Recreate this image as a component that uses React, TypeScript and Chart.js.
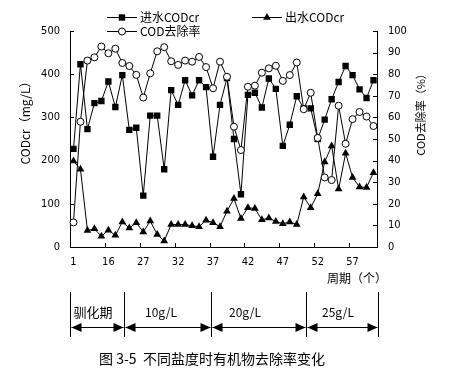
import React, { useEffect, useRef } from 'react';
import { Chart, registerables } from 'chart.js';

Chart.register(...registerables);

// ---- data ----
const periods = [
  '1', '4', '7', '10', '13', '16', '18', '20', '23', '25',
  '27', '28', '29', '30', '31', '32', '33', '34', '35', '36',
  '37', '38', '39', '40', '41', '42', '43', '44', '45', '46',
  '47', '48', '49', '50', '51', '52', '53', '54', '55', '56',
  '57', '58', '59', '60',
];
const influentCOD = [
  227, 423, 273, 333, 338, 383, 324, 398, 271, 276,
  119, 304, 304, 180, 363, 329, 386, 351, 386, 370,
  209, 329, 391, 250, 122, 352, 357, 323, 390, 366,
  234, 283, 349, 321, 321, 250, 295, 342, 382, 419,
  398, 365, 345, 386,
];
const effluentCOD = [
  199, 180, 38, 42, 25, 39, 27, 58, 44, 56,
  35, 60, 29, 14, 52, 52, 52, 49, 47, 62,
  56, 47, 83, 112, 66, 91, 89, 63, 67, 59,
  54, 58, 52, 116, 91, 123, 197, 234, 134, 217,
  161, 139, 138, 172,
];
const removalRate = [
  11.4, 58, 86.3, 87.8, 92.8, 89.7, 91.8, 85.2, 83.8, 79.7,
  69.2, 80.4, 90.6, 92.5, 86, 84.3, 86.3, 85.8, 88, 83.3,
  73.5, 85.8, 78.8, 55.7, 44.9, 74.2, 74.7, 80.7, 82.7, 83.9,
  76.9, 79.6, 85.4, 63.8, 71.4, 50.5, 32.2, 31, 65.4, 47.8,
  59.2, 62.5, 60.4, 56,
];
const seriesNames = ['进水CODcr', '出水CODcr', 'COD去除率'];
const stageNames = ['驯化期', '10g/L', '20g/L', '25g/L'];
const leftTitle = 'CODcr（mg/L）';
const rightTitle = 'COD去除率（%）';
const xTitle = '周期（个）';
const caption = '图 3-5  不同盐度时有机物去除率变化';

const NUM_FONT = '"DejaVu Sans Condensed", "Liberation Sans Narrow", "Noto Sans CJK SC", sans-serif';
const CJK_FONT = '"Noto Sans CJK SC", "DejaVu Sans", sans-serif';

function drawMarker(ctx: CanvasRenderingContext2D, style: string, x: number, y: number) {
  ctx.save();
  ctx.lineWidth = 1;
  ctx.strokeStyle = '#000';
  ctx.beginPath();
  if (style === 'rect') {
    ctx.fillStyle = '#000';
    ctx.rect(x - 3.2, y - 3.2, 6.4, 6.4);
    ctx.fill();
  } else if (style === 'triangle') {
    ctx.fillStyle = '#000';
    ctx.moveTo(x, y - 4.5);
    ctx.lineTo(x + 3.9, y + 2.25);
    ctx.lineTo(x - 3.9, y + 2.25);
    ctx.closePath();
    ctx.fill();
  } else {
    ctx.fillStyle = '#fff';
    ctx.arc(x, y, 3.5, 0, Math.PI * 2);
    ctx.fill();
    ctx.stroke();
  }
  ctx.restore();
}

function doubleArrow(ctx: CanvasRenderingContext2D, xa: number, xb: number, y: number) {
  ctx.beginPath();
  ctx.moveTo(xa, y + 0.5);
  ctx.lineTo(xb, y + 0.5);
  ctx.stroke();
  const L = 10, H = 4.5;
  ctx.beginPath();
  ctx.moveTo(xa, y + 0.5);
  ctx.lineTo(xa + L, y + 0.5 - H);
  ctx.lineTo(xa + L, y + 0.5 + H);
  ctx.closePath();
  ctx.fill();
  ctx.beginPath();
  ctx.moveTo(xb, y + 0.5);
  ctx.lineTo(xb - L, y + 0.5 - H);
  ctx.lineTo(xb - L, y + 0.5 + H);
  ctx.closePath();
  ctx.fill();
}

const decoPlugin = {
  id: 'deco',
  afterDraw(chart: any) {
    const { ctx, chartArea: ca, scales } = chart;
    const xs = scales.x, ys = scales.y, ys1 = scales.y1;
    ctx.save();
    ctx.strokeStyle = '#000';
    ctx.fillStyle = '#000';
    ctx.lineWidth = 1;

    // inward tick marks
    ctx.beginPath();
    ys.ticks.forEach((_t: any, i: number) => {
      const py = Math.round(ys.getPixelForTick(i)) + 0.5;
      ctx.moveTo(ca.left, py);
      ctx.lineTo(ca.left + 4, py);
    });
    ys1.ticks.forEach((_t: any, i: number) => {
      const py = Math.round(ys1.getPixelForTick(i)) + 0.5;
      ctx.moveTo(ca.right, py);
      ctx.lineTo(ca.right - 4, py);
    });
    const step = xs.getPixelForValue(1) - xs.getPixelForValue(0);
    for (let i = 5; i < periods.length; i += 5) {
      const px = Math.round(xs.getPixelForValue(i) - step / 2) + 0.5;
      ctx.moveTo(px, ca.bottom);
      ctx.lineTo(px, ca.bottom - 4);
    }
    ctx.stroke();

    // axis titles
    ctx.textAlign = 'center';
    ctx.textBaseline = 'middle';
    ctx.font = `12px ${CJK_FONT}`;
    ctx.save();
    ctx.translate(25, 120);
    ctx.rotate(-Math.PI / 2);
    ctx.fillText(leftTitle, 0, 0);
    ctx.restore();
    ctx.font = `11px ${CJK_FONT}`;
    ctx.save();
    ctx.translate(421, 112);
    ctx.rotate(-Math.PI / 2);
    ctx.fillText(rightTitle, 0, 0);
    ctx.restore();
    ctx.font = `12px ${CJK_FONT}`;
    ctx.textAlign = 'left';
    ctx.fillText(xTitle, 327, 278);

    // legend
    const legendItems = [
      { name: seriesNames[0], style: 'rect', x0: 107, y: 17 },
      { name: seriesNames[1], style: 'triangle', x0: 252, y: 17 },
      { name: seriesNames[2], style: 'circle', x0: 107, y: 31 },
    ];
    legendItems.forEach((it) => {
      ctx.beginPath();
      ctx.moveTo(it.x0, it.y + 0.5);
      ctx.lineTo(it.x0 + 30, it.y + 0.5);
      ctx.stroke();
      drawMarker(ctx, it.style, it.x0 + 15, it.y + 0.5);
      ctx.fillStyle = '#000';
      ctx.font = `12px ${CJK_FONT}`;
      ctx.textAlign = 'left';
      ctx.textBaseline = 'middle';
      ctx.fillText(it.name, it.x0 + 33, it.y);
    });

    // stage annotation below the chart
    const bounds = [70.5, 124.5, 211.5, 306.5, 378.5];
    ctx.beginPath();
    bounds.forEach((bx) => {
      ctx.moveTo(bx, 292);
      ctx.lineTo(bx, 337);
    });
    ctx.stroke();
    for (let i = 0; i < 4; i++) {
      doubleArrow(ctx, bounds[i] + 1, bounds[i + 1] - 1, 327);
    }
    ctx.textBaseline = 'middle';
    ctx.textAlign = 'center';
    ctx.font = `13px ${CJK_FONT}`;
    ctx.fillText(stageNames[0], 93, 312);
    ctx.font = `12px ${CJK_FONT}`;
    ctx.fillText(stageNames[1], 161, 312);
    ctx.fillText(stageNames[2], 245, 312);
    ctx.fillText(stageNames[3], 338, 312);

    // caption
    ctx.font = `14px ${CJK_FONT}`;
    ctx.fillText(caption, 212, 359);
    ctx.restore();
  },
};

export default function App() {
  const ref = useRef<HTMLCanvasElement>(null);
  useEffect(() => {
    const tickFont = { family: NUM_FONT, size: 11 };
    const chart = new Chart(ref.current as HTMLCanvasElement, {
      type: 'line',
      data: {
        labels: periods,
        datasets: [
          {
            label: seriesNames[0],
            data: influentCOD,
            yAxisID: 'y',
            borderColor: '#000',
            borderWidth: 1,
            pointStyle: 'rect',
            pointRadius: 4.5,
            pointBackgroundColor: '#000',
            pointBorderColor: '#000',
            pointBorderWidth: 0,
            tension: 0,
            order: 2,
          },
          {
            label: seriesNames[1],
            data: effluentCOD,
            yAxisID: 'y',
            borderColor: '#000',
            borderWidth: 1,
            pointStyle: 'triangle',
            pointRadius: 4.5,
            pointBackgroundColor: '#000',
            pointBorderColor: '#000',
            pointBorderWidth: 0,
            tension: 0,
            order: 1,
          },
          {
            label: seriesNames[2],
            data: removalRate,
            yAxisID: 'y1',
            borderColor: '#000',
            borderWidth: 1,
            pointStyle: 'circle',
            pointRadius: 3.5,
            pointBackgroundColor: '#fff',
            pointBorderColor: '#000',
            pointBorderWidth: 1,
            tension: 0,
            order: 0,
          },
        ],
      },
      options: {
        animation: false,
        responsive: false,
        events: [],
        layout: { padding: { top: 31, left: 0, right: 0, bottom: 0 } },
        plugins: { legend: { display: false }, tooltip: { enabled: false }, title: { display: false } },
        scales: {
          x: {
            type: 'category',
            offset: true,
            grid: { display: false, drawTicks: false },
            border: { display: true, color: '#000', width: 1 },
            ticks: {
              autoSkip: false,
              maxRotation: 0,
              minRotation: 0,
              padding: 9,
              color: '#000',
              font: tickFont,
              callback: (_v: any, i: number) => (i % 5 === 0 ? periods[i] : ''),
            },
            afterFit: (s: any) => { s.height = 130; },
          },
          y: {
            position: 'left',
            min: 0,
            max: 500,
            grid: { display: false, drawTicks: false },
            border: { display: true, color: '#000', width: 1 },
            ticks: { stepSize: 100, padding: 10, color: '#000', font: tickFont },
            afterFit: (s: any) => { s.width = 70; },
          },
          y1: {
            position: 'right',
            min: 0,
            max: 100,
            grid: { display: false, drawTicks: false },
            border: { display: true, color: '#000', width: 1 },
            ticks: { stepSize: 10, padding: 11, color: '#000', font: tickFont },
            afterFit: (s: any) => { s.width = 74; },
          },
        },
      },
      plugins: [decoPlugin],
    } as any);
    return () => chart.destroy();
  }, []);
  return (
    <div style={{ position: 'fixed', left: 0, top: 0, width: 451, height: 377, background: '#fff' }}>
      <canvas ref={ref} width={451} height={377} />
    </div>
  );
}
